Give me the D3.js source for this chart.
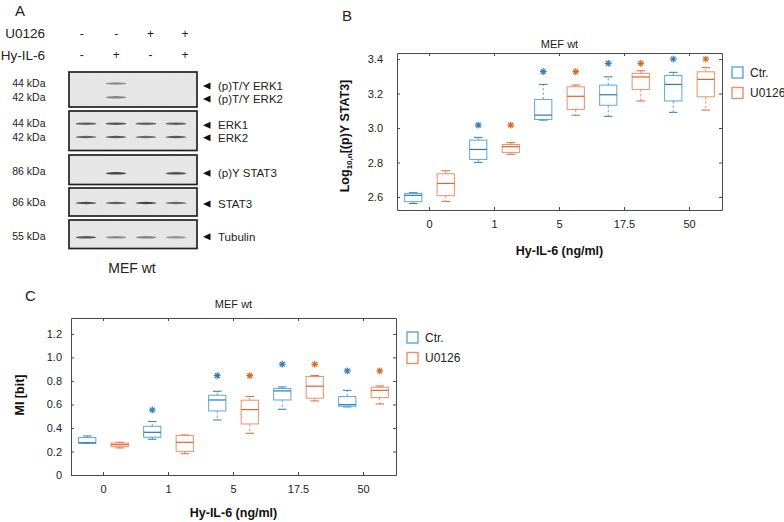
<!DOCTYPE html>
<html><head><meta charset="utf-8">
<script src="https://cdn.jsdelivr.net/npm/d3@7"></script>
<style>
body{margin:0;background:#fff}
svg{display:block}
text{font-family:"Liberation Sans",Arial,Helvetica,sans-serif}
</style>
</head><body>
<svg id="c" width="784" height="522"></svg>
<script>
// ---------------- DATA ----------------
const doses = ["0","1","5","17.5","50"];
const groups = ["Ctr.","U0126"];
// box stats: [lower whisker, q1, median, q3, upper whisker]
const stat3Ctr = [[2.563,2.573,2.61,2.621,2.625],[2.801,2.818,2.876,2.93,2.946],[3.046,3.05,3.075,3.166,3.253],[3.068,3.132,3.193,3.249,3.297],[3.091,3.157,3.253,3.305,3.323]];
const stat3U0126 = [[2.575,2.608,2.679,2.735,2.752],[2.848,2.859,2.892,2.905,2.915],[3.074,3.108,3.184,3.239,3.249],[3.157,3.224,3.296,3.317,3.332],[3.104,3.181,3.282,3.326,3.35]];
const stat3StarCtr = [null,3.017,3.327,3.375,3.4];
const stat3StarU0126 = [null,3.017,3.327,3.375,3.4];
const stat3Ticks = [2.6,2.8,3.0,3.2,3.4];

const miCtr = [[0.27,0.27,0.275,0.318,0.332],[0.304,0.321,0.363,0.414,0.454],[0.468,0.545,0.638,0.678,0.712],[0.559,0.638,0.715,0.735,0.749],[0.579,0.585,0.598,0.667,0.72]];
const miU0126 = [[0.23,0.241,0.258,0.272,0.278],[0.181,0.201,0.278,0.335,0.34],[0.355,0.434,0.556,0.636,0.667],[0.63,0.653,0.755,0.837,0.845],[0.604,0.658,0.72,0.746,0.757]];
const miStarCtr = [null,0.553,0.845,0.942,0.885];
const miStarU0126 = [null,null,0.845,0.942,0.885];
const miTicks = [0,0.2,0.4,0.6,0.8,1.0,1.2];

// western blot
const laneU0126 = ["-","-","+","+"];
const laneHyIL6 = ["-","+","-","+"];
const blotRowKda = ["44 kDa","42 kDa","44 kDa","42 kDa","86 kDa","86 kDa","55 kDa"];
const blotRowLabel = ["(p)T/Y ERK1","(p)T/Y ERK2","ERK1","ERK2","(p)Y STAT3","STAT3","Tubulin"];
const blotRowBlot = [0,0,1,1,2,3,4];
const blotRowIntensity = [[0,0.5,0,0],[0,0.55,0,0],[0.75,0.8,0.75,0.75],[0.75,0.8,0.7,0.8],[0,0.9,0,0.85],[0.85,0.75,0.9,0.7],[0.8,0.5,0.55,0.45]];

// ---------------- DRAW ----------------
const svg = d3.select("#c");
const FONT = "'Liberation Sans', Arial, sans-serif";
const colC = {box:"#5ca5dc", med:"#2a7bbd", star:"#2f78b8"};
const colU = {box:"#ea9068", med:"#dc6630", star:"#d4681f"};

function star(g, cx, cy, color){
  const r = 3.4;
  [0,45,90,135].forEach(a=>{
    const t = a*Math.PI/180;
    g.append("line").attr("x1",cx-r*Math.cos(t)).attr("y1",cy-r*Math.sin(t))
      .attr("x2",cx+r*Math.cos(t)).attr("y2",cy+r*Math.sin(t))
      .attr("stroke",color).attr("stroke-width",1.2);
  });
}

function boxChart(cfg){
  const g = svg.append("g");
  const x = d3.scaleBand().domain(doses).range([cfg.x0,cfg.x1]);
  const xs = d3.scaleBand().domain(groups).range([-x.bandwidth()/2, x.bandwidth()/2]);
  const y = d3.scaleLinear().domain(cfg.domain).range([cfg.y1,cfg.y0]);
  const style = s=>{
    s.select(".domain").attr("stroke","#4a4a4a");
    s.selectAll(".tick line").attr("stroke","#4a4a4a");
    s.selectAll("text").attr("fill","#222").style("font-family",FONT).style("font-size","11px");
  };
  g.append("g").attr("transform",`translate(0,${cfg.y1})`)
    .call(d3.axisBottom(x).tickSizeInner(-3).tickSizeOuter(0).tickPadding(cfg.xPad)).call(style);
  g.append("g").attr("transform",`translate(0,${cfg.y0})`)
    .call(d3.axisTop(x).tickSizeInner(-3).tickSizeOuter(0).tickFormat("")).call(style);
  g.append("g").attr("transform",`translate(${cfg.x0},0)`)
    .call(d3.axisLeft(y).tickValues(cfg.ticks).tickFormat(cfg.fmt).tickSizeInner(-3).tickSizeOuter(0).tickPadding(cfg.yPad)).call(style);
  g.append("g").attr("transform",`translate(${cfg.x1},0)`)
    .call(d3.axisRight(y).tickValues(cfg.ticks).tickFormat("").tickSizeInner(-3).tickSizeOuter(0)).call(style);

  const bw = xs.bandwidth()*0.53;
  const series = [[cfg.ctr,cfg.starC,colC,"Ctr."],[cfg.u,cfg.starU,colU,"U0126"]];
  series.forEach(([data,stars,col,name])=>{
    data.forEach((d,i)=>{
      const cx = x(doses[i]) + x.bandwidth()/2 + xs(name) + xs.bandwidth()/2;
      const [lo,q1,md,q3,hi] = d;
      const bg = g.append("g");
      bg.append("line").attr("x1",cx).attr("x2",cx).attr("y1",y(q3)).attr("y2",y(hi))
        .attr("stroke",col.box).attr("stroke-dasharray","2.5,2").attr("stroke-width",1);
      bg.append("line").attr("x1",cx).attr("x2",cx).attr("y1",y(q1)).attr("y2",y(lo))
        .attr("stroke",col.box).attr("stroke-dasharray","2.5,2").attr("stroke-width",1);
      bg.append("line").attr("x1",cx-bw/4).attr("x2",cx+bw/4).attr("y1",y(hi)).attr("y2",y(hi))
        .attr("stroke",col.med).attr("stroke-width",1);
      bg.append("line").attr("x1",cx-bw/4).attr("x2",cx+bw/4).attr("y1",y(lo)).attr("y2",y(lo))
        .attr("stroke",col.med).attr("stroke-width",1);
      bg.append("rect").attr("x",cx-bw/2).attr("y",y(q3)).attr("width",bw).attr("height",y(q1)-y(q3))
        .attr("fill","none").attr("stroke",col.box).attr("stroke-width",1);
      bg.append("line").attr("x1",cx-bw/2).attr("x2",cx+bw/2).attr("y1",y(md)).attr("y2",y(md))
        .attr("stroke",col.med).attr("stroke-width",1.2);
      if(stars[i]!=null) star(g, cx, y(stars[i]), col.star);
    });
  });
  g.append("text").attr("x",(cfg.x0+cfg.x1)/2).attr("y",cfg.titleY).attr("text-anchor","middle")
    .attr("dominant-baseline","central").style("font-size","11px").attr("fill","#222").text("MEF wt");
  g.append("text").attr("x",(cfg.x0+cfg.x1)/2).attr("y",cfg.xLabelY).attr("text-anchor","middle")
    .attr("dominant-baseline","central").style("font-size","12.5px").style("font-weight","bold").attr("fill","#111").text("Hy-IL-6 (ng/ml)");
  const yl = g.append("text").attr("transform",`translate(${cfg.yLabelX},${cfg.yLabelY}) rotate(-90)`)
    .attr("text-anchor","middle").attr("dominant-baseline","central")
    .style("font-size","12.5px").style("font-weight","bold").attr("fill","#111");
  cfg.ylabel(yl);
  const lg = g.append("g");
  series.forEach(([,,col,name],i)=>{
    const yy = cfg.legY + i*cfg.legStep;
    lg.append("rect").attr("x",cfg.legX).attr("y",yy-5.5).attr("width",11).attr("height",11)
      .attr("fill","none").attr("stroke",col.box).attr("stroke-width",1.4);
    lg.append("text").attr("x",cfg.legX+18).attr("y",yy).attr("dominant-baseline","central")
      .style("font-size","12px").attr("fill","#222").text(name);
  });
}

// Panel B
boxChart({x0:397,x1:722,y0:53,y1:210,domain:[2.525,3.435],ticks:stat3Ticks,fmt:d3.format(".1f"),
  ctr:stat3Ctr,u:stat3U0126,starC:stat3StarCtr,starU:stat3StarU0126,xPad:10,yPad:14,
  titleY:44,xLabelY:251,yLabelX:345,yLabelY:136,legX:732,legY:72.5,legStep:20.5,
  ylabel:t=>{t.append("tspan").text("Log");
    t.append("tspan").attr("baseline-shift","sub").style("font-size","8px").text("10,n");
    t.append("tspan").text("[(p)Y STAT3]");}});
// Panel C
boxChart({x0:71,x1:396,y0:318,y1:475,domain:[0,1.335],ticks:miTicks,fmt:d=>d===0?"0":d3.format(".1f")(d),
  ctr:miCtr,u:miU0126,starC:miStarCtr,starU:miStarU0126,xPad:10,yPad:9,
  titleY:304,xLabelY:513,yLabelX:19.5,yLabelY:395,legX:407,legY:337.5,legStep:20.5,
  ylabel:t=>t.text("MI [bit]")});

[["A",15,10],["B",342,15],["C",25,295]].forEach(([s,x,y])=>{
  svg.append("text").attr("x",x).attr("y",y).attr("dominant-baseline","central")
    .style("font-size","15px").attr("fill","#222").text(s);
});

// ---------------- Panel A: western blot ----------------
const blotBoxes = [[72,107],[111,150.5],[155,184.5],[188,216],[220,248.5]];
const rowY = [83.5,97.3,123.7,137,173.3,203,237.3];
const kdaY = [83.3,96.7,123.3,137.3,170.7,201.7,236];
const labY = [86,99,125.3,137.8,173.3,204,236.7];
const blotX = [69,197];
const lane = d3.scaleBand().domain(d3.range(4)).range([71,191]);
const signX = d3.scalePoint().domain(d3.range(4)).range([81.7,185]);

const defs = svg.append("defs");
defs.append("filter").attr("id","blur").attr("x","-50%").attr("y","-200%").attr("width","200%").attr("height","500%")
  .append("feGaussianBlur").attr("stdDeviation","0.7");
const nf = defs.append("filter").attr("id","noise");
nf.append("feTurbulence").attr("type","fractalNoise").attr("baseFrequency","0.9").attr("numOctaves","2").attr("seed","3").attr("result","n");
nf.append("feColorMatrix").attr("in","n").attr("type","matrix")
  .attr("values","0 0 0 0 0.55  0 0 0 0 0.55  0 0 0 0 0.55  0 0 0 0.15 0").attr("result","m");
nf.append("feComposite").attr("in","m").attr("in2","SourceGraphic").attr("operator","in");

const A = svg.append("g");
A.append("text").attr("x",45).attr("y",33.5).attr("text-anchor","end").attr("dominant-baseline","central")
  .style("font-size","13.5px").attr("fill","#222").text("U0126");
A.append("text").attr("x",45).attr("y",55).attr("text-anchor","end").attr("dominant-baseline","central")
  .style("font-size","13.5px").attr("fill","#222").text("Hy-IL-6");
laneU0126.forEach((s,i)=>A.append("text").attr("x",signX(i)).attr("y",33.5).attr("text-anchor","middle")
  .attr("dominant-baseline","central").style("font-size","12px").attr("fill","#222").text(s));
laneHyIL6.forEach((s,i)=>A.append("text").attr("x",signX(i)).attr("y",55).attr("text-anchor","middle")
  .attr("dominant-baseline","central").style("font-size","12px").attr("fill","#222").text(s));

blotBoxes.forEach(([t,b])=>{
  A.append("rect").attr("x",blotX[0]).attr("y",t).attr("width",blotX[1]-blotX[0]).attr("height",b-t)
    .attr("fill","#e9e9e9");
  A.append("rect").attr("x",blotX[0]).attr("y",t).attr("width",blotX[1]-blotX[0]).attr("height",b-t)
    .attr("fill","#e9e9e9").attr("filter","url(#noise)");
});
blotRowIntensity.forEach((row,r)=>{
  row.forEach((v,i)=>{
    if(v<=0) return;
    A.append("ellipse").attr("cx",lane(i)+lane.bandwidth()/2).attr("cy",rowY[r])
      .attr("rx",10.5).attr("ry",1.2).attr("fill","#333").attr("opacity",v).attr("filter","url(#blur)");
  });
  A.append("text").attr("x",45.5).attr("y",kdaY[r]).attr("text-anchor","end").attr("dominant-baseline","central")
    .style("font-size","10.5px").attr("fill","#222").text(blotRowKda[r]);
  A.append("path").attr("d",d3.line()([[203,labY[r]],[210.5,labY[r]-3.5],[210.5,labY[r]+3.5]])+"Z").attr("fill","#111");
  A.append("text").attr("x",218).attr("y",labY[r]).attr("dominant-baseline","central")
    .style("font-size","11.5px").attr("fill","#222").text(blotRowLabel[r]);
});
blotBoxes.forEach(([t,b])=>{
  A.append("rect").attr("x",blotX[0]).attr("y",t).attr("width",blotX[1]-blotX[0]).attr("height",b-t)
    .attr("fill","none").attr("stroke","#222").attr("stroke-width",1.7);
});
A.append("text").attr("x",132).attr("y",268).attr("text-anchor","middle").attr("dominant-baseline","central")
  .style("font-size","14px").attr("fill","#222").text("MEF wt");
</script>
</body></html>
